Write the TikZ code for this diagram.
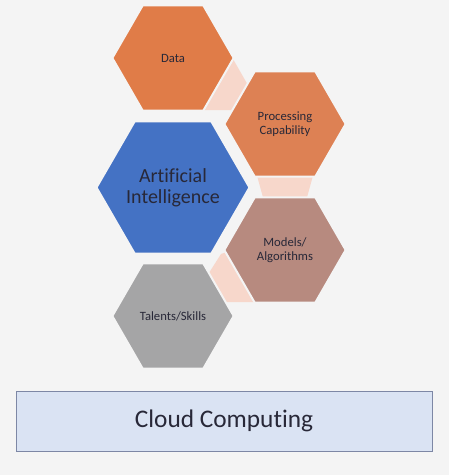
\documentclass[tikz,border=0pt]{standalone}
\usepackage{xcolor}
\usepackage{fontspec}
\setmainfont{Carlito}[Ligatures=NoCommon]
\usepackage{tikz}
\usetikzlibrary{shapes.geometric}

\definecolor{bgcol}{RGB}{244,244,244}
\definecolor{dataorange}{RGB}{224,124,72}
\definecolor{procorange}{RGB}{221,129,84}
\definecolor{aiblue}{RGB}{68,114,196}
\definecolor{modelrose}{RGB}{183,138,127}
\definecolor{talentgray}{RGB}{165,165,166}
\definecolor{linkpink}{RGB}{247,215,203}
\definecolor{cloudfill}{RGB}{218,227,243}
\definecolor{cloudline}{RGB}{125,135,165}
\definecolor{txtdark}{RGB}{40,40,56}

\begin{document}
\begin{tikzpicture}[x=0.75pt,y=0.75pt,yscale=-1,xscale=1,
  hexa/.style={regular polygon,regular polygon sides=6,minimum size=91pt,inner sep=0pt,draw=bgcol,line width=1.5pt,text=txtdark,align=center,font=\fontsize{9.5}{10.5}\selectfont},
  link/.style={fill=linkpink,draw=none}]
%set diagram to the size of the reference, 449 x 475
\path [use as bounding box,fill=bgcol] (0,0) rectangle (449,475);

%Shape: Link [id:data-proc]
\path [link] (226,58) -- (233,59) -- (249,87) -- (237,110) -- (196,110) -- cycle ;
%Shape: Link [id:proc-models]
\path [link] (256,172) -- (314,172) -- (306,201) -- (264,201) -- cycle ;
%Shape: Link [id:models-talents]
\path [link] (221,254) -- (207,276) -- (222,302) -- (258,302) -- (232,250) -- cycle ;

%Shape: Hexagon [id:data]
\node [hexa,fill=dataorange] (data) at (173,58) {Data};
%Shape: Hexagon [id:proc]
\node [hexa,fill=procorange] (proc) at (285,124) {Processing\\Capability};
%Shape: Hexagon [id:ai]
\node [hexa,fill=aiblue,minimum size=110pt,font=\fontsize{15}{15.75}\selectfont] (ai) at (173,187.5) {Artificial\\Intelligence};
%Shape: Hexagon [id:models]
\node [hexa,fill=modelrose] (models) at (285,250) {Models/\\Algorithms};
%Shape: Hexagon [id:talents]
\node [hexa,fill=talentgray] (talents) at (173,316) {Talents/Skills};

%Shape: Rectangle [id:cloud]
\node [draw=cloudline,line width=0.5pt,fill=cloudfill,minimum width=312pt,minimum height=45pt,inner sep=0pt,text=txtdark,font=\fontsize{19}{22}\selectfont] (cloud) at (224,421) {Cloud Computing};

\end{tikzpicture}
\end{document}
